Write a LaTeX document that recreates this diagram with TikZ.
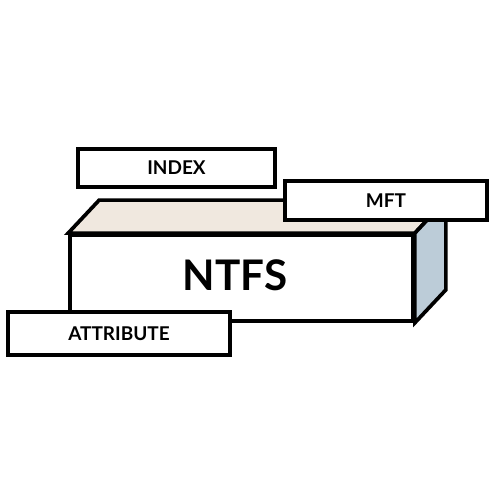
\documentclass[tikz,border=0pt]{standalone}
\usepackage{fontspec}
\setmainfont{Lato}
\usetikzlibrary{positioning, calc}
\definecolor{topF}{HTML}{F0E8DF}
\definecolor{sideF}{HTML}{BCCCD8}
\tikzset{
  edge/.style={draw=black, line width=2.1pt},
  face/.style={edge, fill=white, minimum width=6.86cm, minimum height=1.72cm,
    inner sep=0pt},
  tag/.style={edge, fill=white, minimum height=0.78cm, inner sep=0pt,
    font=\bfseries\fontsize{10.8}{12}\selectfont},
}
\begin{document}
\begin{tikzpicture}
  \useasboundingbox (0,0) rectangle (10,10);

  % ---- Box -------------------------------------------------------------
  \node[face] (ntfs) at (4.83,4.44) {};
  \node[font=\bfseries\fontsize{24}{28}\selectfont] (ntfslbl) at (4.7,4.5) {NTFS};
  \draw[edge, fill=topF] (ntfs.north west) -- ++(0.62,0.66)
    -- ($(ntfs.north east)+(0.62,0.66)$) -- (ntfs.north east) -- cycle;
  \draw[edge, fill=sideF] (ntfs.north east) -- ++(0.62,0.66)
    -- ($(ntfs.south east)+(0.62,0.66)$) -- (ntfs.south east) -- cycle;

  % ---- Tags ------------------------------------------------------------
  \node[tag, minimum width=3.94cm, minimum height=0.76cm] (index) at (3.53,6.64) {INDEX};
  \node[tag, minimum width=4.04cm] (mft) at (7.72,5.99) {MFT};
  \node[tag, minimum width=4.44cm, minimum height=0.86cm] (attr) at (2.38,3.33) {ATTRIBUTE};
\end{tikzpicture}
\end{document}
